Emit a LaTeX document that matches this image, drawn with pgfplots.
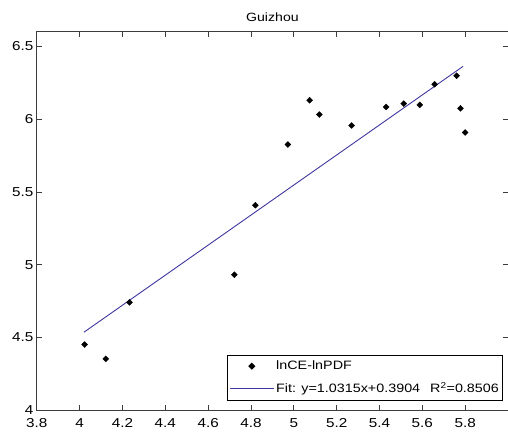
\documentclass[border=0pt]{standalone}
\usepackage{fontspec}
\setmainfont{Liberation Sans}[FakeStretch=1.18]
\usepackage{pgfplots}
\pgfplotsset{compat=1.18}
\definecolor{fitblue}{RGB}{62,54,158}
\definecolor{axisgray}{RGB}{60,60,60}
\pgfplotsset{
  scatleg/.style={legend image code/.code={\draw[mark repeat=2,mark phase=2,##1] plot coordinates {(0pt,0pt) (22pt,0pt) (44pt,0pt)};}},
  lineleg/.style={legend image code/.code={\draw[##1] (0pt,0pt) -- (44pt,0pt);}},
}
\begin{document}
\begin{tikzpicture}
\begin{axis}[
  scale only axis,
  width=473pt, height=380pt,
  xmin=3.8, xmax=6.0, ymin=4, ymax=6.6,
  xtick={3.8,4,4.2,4.4,4.6,4.8,5,5.2,5.4,5.6,5.8},
  ytick={4,4.5,5,5.5,6,6.5},
  xticklabels={3.8,4,4.2,4.4,4.6,4.8,5,5.2,5.4,5.6,5.8},
  yticklabels={4,4.5,5,5.5,6,6.5},
  tick align=inside,
  major tick length=5pt,
  axis line style={axisgray, line width=1pt},
  tick style={axisgray, line width=0.9pt},
  ticklabel style={font=\fontsize{13}{14}\selectfont},
  xticklabel style={yshift=-5pt},
  title={Guizhou},
  title style={font=\fontsize{12}{13}\selectfont, yshift=1pt},
  legend style={at={(rel axis cs:0.99,0.026)}, anchor=south east,
    draw=black, line width=0.9pt, font=\fontsize{12.2}{14}\selectfont,
    legend cell align=left, inner xsep=2pt, inner ysep=4pt, row sep=7pt},
]
\addplot[only marks, mark=square*, mark options={rotate=45}, mark size=2.1pt, black, scatleg]
  coordinates {
  (4.023,4.452) (4.122,4.354) (4.233,4.742) (4.722,4.932) (4.820,5.409)
  (4.972,5.826) (5.074,6.130) (5.119,6.032) (5.270,5.957) (5.431,6.084)
  (5.513,6.107) (5.588,6.098) (5.657,6.240) (5.760,6.299) (5.778,6.075)
  (5.800,5.909)
  };
\addlegendentry{lnCE-lnPDF}
\addplot[fitblue, line width=0.9pt, lineleg]
  coordinates {(4.020,4.537) (5.790,6.363)};
\addlegendentry{Fit: y=1.0315x+0.3904\hspace{10pt}R\textsuperscript{2}=0.8506}
\end{axis}
\pgfresetboundingbox
\path (current axis.south west) ++(-37pt,-26pt) coordinate (bl);
\path (current axis.north east) ++(-1pt,32pt) coordinate (tr);
\useasboundingbox (bl) rectangle (tr);
\end{tikzpicture}
\end{document}
